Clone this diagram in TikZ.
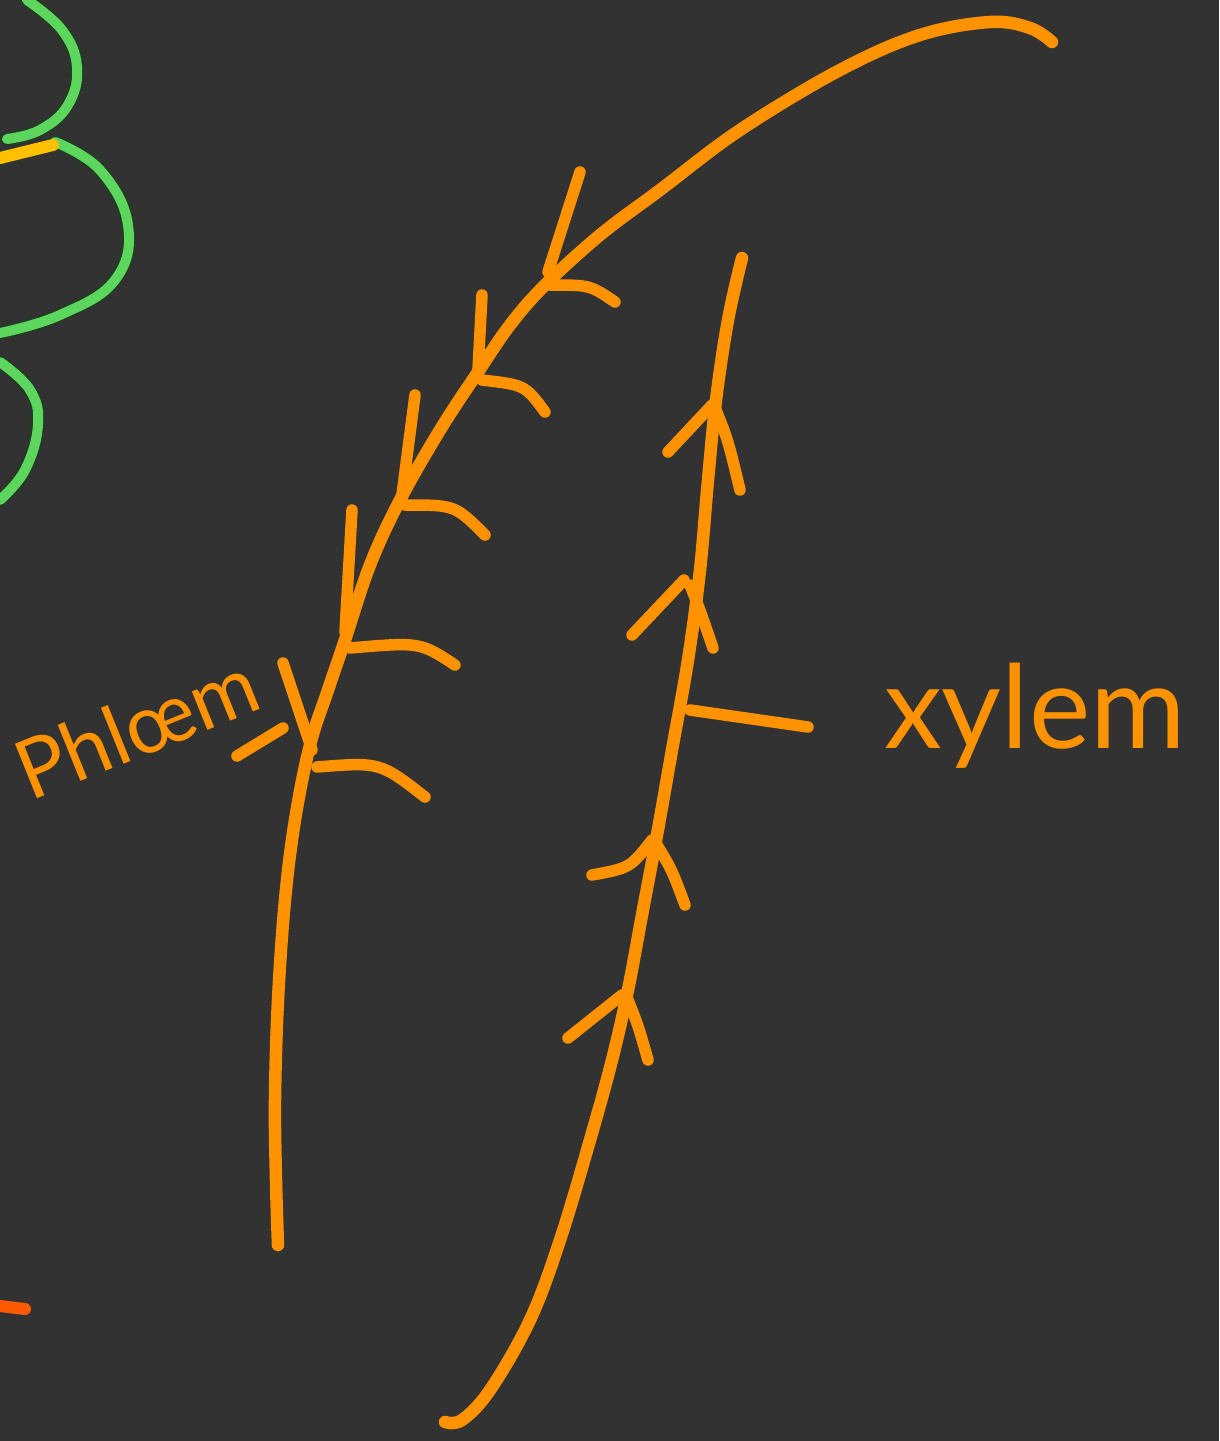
\documentclass[tikz,border=0pt]{standalone}
\usepackage{fontspec}
\setmainfont{Lato}
\definecolor{bg}{HTML}{323232}
\definecolor{org}{HTML}{FF9200}
\definecolor{grn}{HTML}{5CD65C}
\definecolor{ylw}{HTML}{FFC000}
\definecolor{redo}{HTML}{FF5A00}
\begin{document}
\begin{tikzpicture}[x=1pt,y=-1pt,
  ink/.style={draw=org,line width=12.5pt,line cap=round,line join=round},
  thin ink/.style={draw=org,line width=11.5pt,line cap=round,line join=round},
  gline/.style={draw=grn,line width=10pt,line cap=round},
  gshadow/.style={draw=black!70!grn,line width=14pt,line cap=round,opacity=0.6},
  label/.style={text=org,inner sep=0pt}]
\fill[bg] (0,0) rectangle (1219,1441);
\useasboundingbox (0,0) rectangle (1219,1441);

% green loops (left edge)
\foreach \s in {gshadow,gline}{
  \draw[\s] plot[smooth,tension=0.7] coordinates {(27,0) (62,30) (77,67) (68,105) (40,130) (7,139)};
  \draw[\s] plot[smooth,tension=0.7] coordinates {(55,142) (100,170) (128,225) (115,280) (60,315) (0,333)};
  \draw[\s] plot[smooth,tension=0.7] coordinates {(0,362) (30,390) (38,425) (25,470) (0,500)};
}
\draw[draw=ylw,line width=12pt,line cap=round] (0,158) -- (53,145);
\draw[draw=redo,line width=12pt,line cap=round] (0,1306) -- (25,1309);

% phloem line
\draw[ink] plot[smooth,tension=0.6] coordinates {(1052,42) (1030,28) (990,22) (920,35) (840,70) (740,130) (660,190) (600,235) (545,285) (510,325) (478,372) (440,430) (400,500) (370,565) (345,640) (328,690) (310,745) (295,820) (285,900) (278,1000) (275,1100) (276,1180) (278,1245)};

% phloem arrowheads
\draw[thin ink] (580,172) -- (548,272);
\draw[thin ink] (550,285) .. controls (590,285) .. (615,302);
\draw[thin ink] (482,295) -- (478,370);
\draw[thin ink] (482,380) .. controls (525,385) .. (545,412);
\draw[thin ink] (415,395) -- (402,495);
\draw[thin ink] (405,505) .. controls (455,505) .. (485,535);
\draw[thin ink] (352,510) -- (345,632);
\draw[thin ink] (350,648) .. controls (420,642) .. (455,665);
\draw[thin ink] (283,663) -- (312,750);
\draw[thin ink] (317,767) .. controls (380,762) .. (425,797);
\draw[thin ink] (237,756) -- (283,728);

% xylem line
\draw[ink] plot[smooth,tension=0.6] coordinates {(445,1422) (462,1420) (490,1390) (530,1320) (560,1240) (590,1140) (612,1060) (628,990) (642,915) (657,835) (672,750) (688,660) (700,570) (708,480) (716,400) (728,320) (742,258)};

% xylem arrowheads
\draw[thin ink] (668,452) -- (712,405);
\draw[thin ink] (716,410) .. controls (728,440) .. (740,490);
\draw[thin ink] (632,635) -- (684,580);
\draw[thin ink] (690,585) .. controls (700,610) .. (713,648);
\draw[thin ink] (592,875) .. controls (630,868) .. (652,840);
\draw[thin ink] (657,845) .. controls (672,870) .. (685,905);
\draw[thin ink] (568,1038) -- (622,995);
\draw[thin ink] (628,1000) .. controls (638,1025) .. (648,1060);
\draw[thin ink] (690,710) -- (808,727);

% labels
\node[label,anchor=base west,rotate=22,font=\fontsize{82}{82}\selectfont] (phl) at (30,802) {Phlœm};
\node[label,anchor=base west,font=\fontsize{116}{116}\selectfont] (xyl) at (884,748) {xylem};
\end{tikzpicture}
\end{document}
